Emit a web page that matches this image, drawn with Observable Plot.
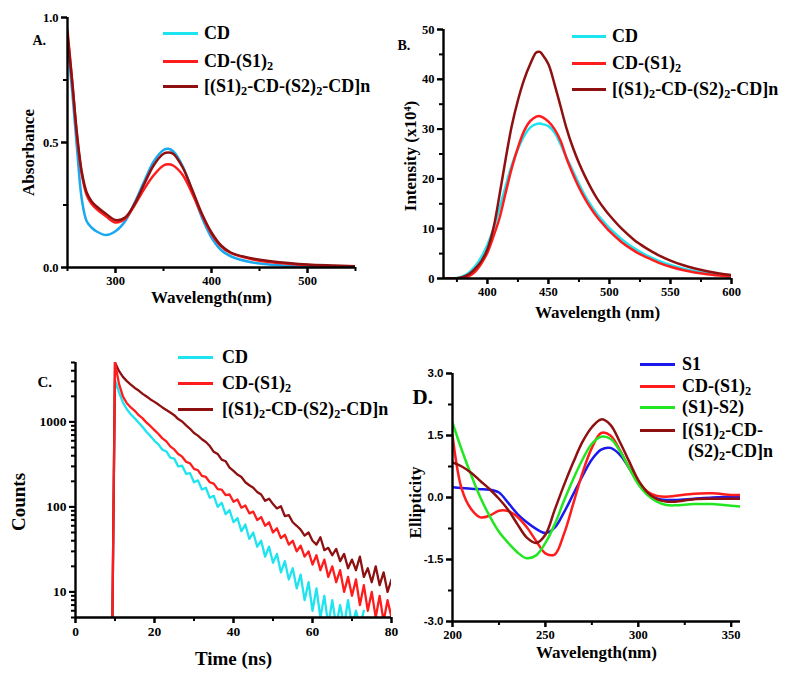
<!DOCTYPE html>
<html><head><meta charset="utf-8">
<script src="https://cdn.jsdelivr.net/npm/d3@7"></script>
<script src="https://cdn.jsdelivr.net/npm/@observablehq/plot@0.6"></script>
<style>
html,body{margin:0;padding:0;background:#fff;}
#wrap{position:relative;width:800px;height:681px;overflow:hidden;font-family:'Liberation Serif','Times New Roman',serif;}
#wrap svg{position:absolute;overflow:visible;background:transparent;}
.sw{position:absolute;height:3px;}
.lg{position:absolute;font-weight:bold;font-size:18px;line-height:18px;white-space:nowrap;color:#000;}
.lg sub{font-size:68%;vertical-align:-0.28em;line-height:0;}
</style></head><body><div id="wrap"></div>
<script>
// ---------- Panel A: absorbance ----------
const wlA = [250,255,260,265,270,275,280,290,300,310,320,330,340,350,355,360,370,380,390,400,410,420,440,460,480,500,525,550];
const absCD   = [0.90,0.70,0.47,0.27,0.185,0.16,0.145,0.13,0.145,0.185,0.26,0.345,0.425,0.47,0.475,0.465,0.405,0.305,0.20,0.12,0.07,0.045,0.022,0.012,0.007,0.004,0.002,0.001];
const absS1   = [0.95,0.74,0.52,0.37,0.29,0.255,0.235,0.205,0.18,0.195,0.25,0.315,0.37,0.408,0.413,0.408,0.37,0.295,0.21,0.135,0.085,0.058,0.035,0.022,0.015,0.010,0.006,0.004];
const absPoly = [0.93,0.74,0.53,0.38,0.30,0.265,0.245,0.215,0.19,0.20,0.255,0.335,0.41,0.455,0.46,0.455,0.40,0.31,0.215,0.14,0.088,0.06,0.038,0.026,0.018,0.012,0.008,0.005];

// ---------- Panel B: emission ----------
const wlB = [364,375,380,385,390,395,400,405,410,415,420,425,430,435,440,443,445,450,455,460,465,470,475,480,485,490,497,500,510,520,525,530,540,550,560,570,580,590,600];
const emCD   = [0,0.1,0.45,1.2,2.5,4.3,6.8,10.0,14.2,18.6,22.8,26.0,28.6,30.3,31.0,31.1,31.0,30.6,29.3,26.9,24.2,21.6,19.0,16.6,14.6,12.9,10.9,10.1,7.9,6.1,5.4,4.7,3.6,2.7,2.0,1.45,1.05,0.75,0.5];
const emS1   = [0,0,0.15,0.5,1.4,3.0,5.2,8.5,12.2,17.3,22.2,26.3,29.6,31.6,32.5,32.6,32.4,31.5,30.0,27.6,24.0,21.0,18.3,16.0,14.0,12.3,10.3,9.5,7.3,5.6,4.9,4.3,3.2,2.35,1.7,1.2,0.85,0.6,0.4];
const emPoly = [0,0.05,0.3,0.9,2.0,3.5,5.9,10.2,16.9,24.1,30.7,35.8,39.9,43.0,45.4,45.5,45.0,43.0,39.0,34.5,30.0,26.3,23.2,20.5,18.1,16.0,13.6,12.7,10.0,7.8,6.9,6.1,4.7,3.6,2.7,2.0,1.45,1.0,0.7];

// ---------- Panel C: decay (t = 9.3, then 10,11,...) ----------
const tC = [9.3, ...d3.range(10, 81)];
const decCD = [3,3100,2240,1700,1410,1230,1100,980,870,760,680,600,545,470,450,380,370,300,305,245,250,195,205,160,168,128,135,100,112,82,92,66,74,52,62,42,50,34,40,26,34,22,28,17,23,14,19,11,16,8,13,6,11,5,9,4,8,4,7,4,8,4,6,4,6];
const decS1 = [3,5000,2820,2000,1660,1480,1350,1200,1100,980,890,800,720,640,590,515,475,420,390,340,325,280,270,232,225,195,188,162,160,138,140,115,122,98,104,84,88,70,76,60,66,50,56,43,47,36,40,30,35,26,30,21,27,18,24,15,20,13,18,10,15,9,14,7,12,6,10,5,9,4.5,8,5];
const decPoly = [3,5000,3980,3390,3020,2750,2510,2340,2140,1990,1840,1720,1600,1480,1380,1290,1200,1080,1010,910,830,740,690,625,580,520,445,420,360,345,290,265,240,225,195,180,168,150,140,118,125,108,96,102,78,80,66,60,54,46,50,40,36,44,31,33,27,32,23,28,19,24,18,26,15,19,13,20,12,17,10,14];

// ---------- Panel D: CD spectra ----------
const wlD = [200,205,210,215,220,225,230,235,240,245,250,255,260,265,270,275,280,285,290,295,300,305,310,315,320,330,340,350,355];
const cdS1   = [0.25,0.23,0.21,0.2,0.19,0.12,-0.13,-0.4,-0.6,-0.76,-0.86,-0.73,-0.36,0.08,0.52,0.92,1.16,1.2,1.04,0.72,0.38,0.1,-0.02,-0.06,-0.06,-0.03,0.0,0.02,0.02];
const cdCDS1 = [1.5,0.2,-0.28,-0.48,-0.44,-0.32,-0.33,-0.47,-0.72,-1.05,-1.35,-1.38,-0.88,-0.15,0.6,1.2,1.56,1.5,1.15,0.72,0.38,0.14,0.04,0.02,0.04,0.09,0.1,0.06,0.06];
const cdS1S2 = [1.81,1.15,0.55,0.0,-0.45,-0.83,-1.1,-1.33,-1.47,-1.4,-1.1,-0.65,-0.08,0.45,0.92,1.3,1.47,1.42,1.13,0.72,0.32,0.06,-0.1,-0.18,-0.19,-0.16,-0.16,-0.2,-0.22];
const cdPoly = [0.85,0.75,0.6,0.4,0.2,-0.03,-0.3,-0.65,-0.97,-1.1,-0.9,-0.3,0.3,0.85,1.35,1.7,1.89,1.76,1.35,0.88,0.42,0.12,-0.04,-0.1,-0.1,-0.04,-0.03,-0.03,-0.03];

// ---------- ticks & labels ----------
const ticksA = {x:[300,400,500], xm:[250,350,450,550], y:[0,0.5,1.0], ym:[0.25,0.75]};
const ticksB = {x:[400,450,500,550,600], xm:[375,425,475,525,575], y:[0,10,20,30,40,50], ym:[5,15,25,35,45]};
const ticksC = {x:[0,20,40,60,80], xm:[10,30,50,70], y:[10,100,1000], ym:[5,6,7,8,9,20,30,40,50,60,70,80,90,200,300,400,500,600,700,800,900,2000,3000,4000,5000]};
const ticksD = {x:[200,250,300,350], xm:[225,275,325], y:[-3,-1.5,0,1.5,3], ym:[-2.25,-0.75,0.75,2.25]};

const CYAN = "#1ee4f0", CYAN_A = "#1aa8ee", RED = "#ff1c1c", DRED = "#8e1010", BLUE = "#1a1aee", GREEN = "#22e622";
const SERIF = "Liberation Serif, Times New Roman, serif";
const SANS = "Liberation Sans, Arial, sans-serif";

const wrap = document.getElementById("wrap");

function panel(c) {
  const lab = {fontFamily: SERIF, fontWeight: "bold", textAnchor: "middle", lineAnchor: "middle"};
  const x0 = c.x.domain[0], y0 = c.y.domain[0];
  const tfs = c.tickFontSize || 12.5;
  // outward tick marks: zero-length rules at the axis, extended outward by a negative inset
  const tickX = (vals, len) => Plot.ruleX(vals, {x: d => d, y1: y0, y2: y0, insetBottom: -len, stroke: "black", strokeWidth: 2});
  const tickY = (vals, len) => Plot.ruleY(vals, {y: d => d, x1: x0, x2: x0, insetLeft: -len, stroke: "black", strokeWidth: 2});
  const marks = [
    Plot.axisX({ticks: c.t.x, tickSize: 6, strokeWidth: 2, stroke: "black", tickPadding: 3, label: null,
      tickFormat: d => String(d), fontFamily: SERIF, fontWeight: "bold", fontSize: tfs}),
    Plot.axisY({ticks: c.t.y, tickSize: 6, strokeWidth: 2, stroke: "black", tickPadding: 3, label: null,
      tickFormat: c.yFmt, fontFamily: c.yFont || SERIF, fontWeight: "bold", fontSize: c.yFontSize || tfs}),
    ...c.lines,
    tickX(c.t.xm, 4), tickX(c.t.x, 6),
    tickY(c.t.ym, 4), tickY(c.t.y, 6),
    Plot.ruleX([x0], {stroke: "black", strokeWidth: 2.4}),
    Plot.ruleY([y0], {stroke: "black", strokeWidth: 2.4}),
    Plot.text([c.xLabel], {...lab, text: d => d, frameAnchor: "bottom", dx: c.xl[0], dy: c.xl[1], fontSize: c.labelSize}),
    Plot.text([c.yLabel], {...lab, text: d => d, frameAnchor: "left", rotate: -90, dx: c.yl[0], dy: c.yl[1], fontSize: c.labelSize}),
    Plot.text([c.tag], {...lab, textAnchor: "start", text: d => d, frameAnchor: "top-left", dx: c.tg[0], dy: c.tg[1], fontSize: c.tg[2]})
  ];
  const svg = Plot.plot({
    width: c.w, height: c.h,
    marginTop: c.m[0], marginRight: c.m[1], marginBottom: c.m[2], marginLeft: c.m[3],
    x: {...c.x, label: null}, y: {...c.y, label: null},
    style: {background: "transparent", overflow: "visible", color: "black"},
    marks
  });
  svg.style.left = c.left + "px";
  svg.style.top = c.top + "px";
  wrap.appendChild(svg);
}

const ln = (xs, ys, stroke, w, curve) => Plot.line(ys, {x: xs.slice(0, ys.length), y: ys, stroke, strokeWidth: w, curve: curve || "catmull-rom", clip: true});

panel({left: 0, top: 0, w: 400, h: 320, m: [17, 45, 53, 67],
  x: {domain: [250, 550]}, y: {domain: [0, 1]}, t: ticksA, yFmt: d => d.toFixed(1),
  lines: [ln(wlA, absCD, CYAN_A, 2.5), ln(wlA, absS1, RED, 2.5), ln(wlA, absPoly, DRED, 2.5)],
  xLabel: "Wavelength(nm)", yLabel: "Absorbance", labelSize: 17, xl: [0, 30], yl: [-39, 10], tag: "A.", tg: [-35, 23, 14]});

panel({left: 400, top: 0, w: 400, h: 320, m: [29, 69, 42, 43],
  x: {domain: [364, 600]}, y: {domain: [0, 50]}, t: ticksB, yFmt: d => String(d),
  lines: [ln(wlB, emCD, CYAN, 2.5), ln(wlB, emS1, RED, 2.5), ln(wlB, emPoly, DRED, 2.5)],
  xLabel: "Wavelength (nm)", yLabel: "Intensity (x10⁴)", labelSize: 17, xl: [10, 34], yl: [-33, 2], tag: "B.", tg: [-46, 16, 14]});

panel({left: 0, top: 330, w: 400, h: 351, m: [32, 9, 64, 75],
  x: {domain: [0, 80]}, y: {type: "log", domain: [5, 5000]}, t: ticksC, yFmt: d => String(d), tickFontSize: 13.5,
  lines: [ln(tC, decCD, CYAN, 2.3, "linear"), ln(tC, decPoly, DRED, 2.3, "linear"), ln(tC, decS1, RED, 2.3, "linear")],
  xLabel: "Time (ns)", yLabel: "Counts", labelSize: 19, xl: [0, 41], yl: [-57, 12], tag: "C.", tg: [-38, 20, 15]});

panel({left: 400, top: 330, w: 400, h: 351, m: [43, 60, 60, 52],
  x: {domain: [200, 355]}, y: {domain: [-3, 3]}, t: ticksD, yFmt: d => d.toFixed(1), yFont: SANS, yFontSize: 11.5,
  lines: [ln(wlD, cdS1, BLUE, 2.5), ln(wlD, cdCDS1, RED, 2.5), ln(wlD, cdS1S2, GREEN, 2.5), ln(wlD, cdPoly, DRED, 2.5)],
  xLabel: "Wavelength(nm)", yLabel: "Ellipticity", labelSize: 17, xl: [0, 31], yl: [-37, 5], tag: "D.", tg: [-40, 24, 21]});

// ---------- legends (HTML) ----------
const namesABC = ["CD", "CD-(S1)₂", "[(S1)₂-CD-(S2)₂-CD]n"];
const namesD = ["S1", "CD-(S1)₂", "(S1)-S2)", "[(S1)₂-CD-", "(S2)₂-CD]n"];
function legend(names, colors, x1, x2, tx, ys, indent) {
  names.forEach((nm, i) => {
    if (colors[i]) {
      const s = document.createElement("div");
      s.className = "sw";
      s.style.cssText = `left:${x1}px;top:${ys[i] - 1.5}px;width:${x2 - x1}px;background:${colors[i]};`;
      wrap.appendChild(s);
    }
    const t = document.createElement("div");
    t.className = "lg";
    t.style.left = (tx + (colors[i] ? 0 : indent || 0)) + "px";
    t.style.top = (ys[i] - 9) + "px";
    t.innerHTML = nm.replace(/₂/g, "<sub>2</sub>");
    wrap.appendChild(t);
  });
}
legend(namesABC, [CYAN, RED, DRED], 163, 198, 204, [33, 61, 86]);
legend(namesABC, [CYAN, RED, DRED], 572, 606, 612, [36, 63, 89]);
legend(namesABC, [CYAN, RED, DRED], 178, 213, 222, [357, 383, 409]);
legend(namesD, [BLUE, RED, GREEN, DRED, null], 640, 675, 682, [364, 386, 407, 430, 451], 6);
</script></body></html>
